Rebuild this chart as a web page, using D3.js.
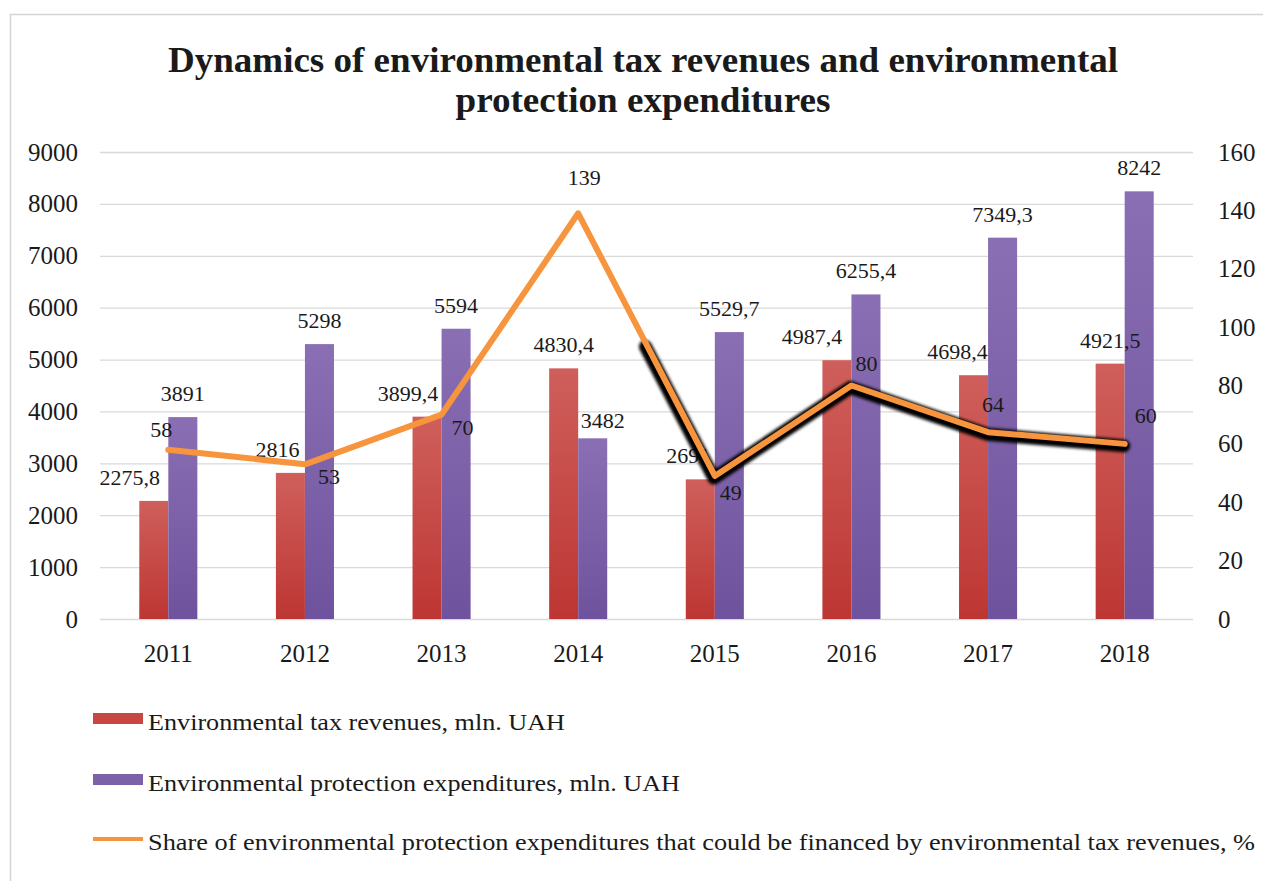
<!DOCTYPE html>
<html>
<head>
<meta charset="utf-8">
<script src="https://cdn.jsdelivr.net/npm/d3@7"></script>
<style>
  html, body { margin: 0; padding: 0; background: #fff; }
  svg { display: block; }
  text { font-family: "Liberation Serif", "Times New Roman", serif; fill: #1a1a1a; }
</style>
</head>
<body>
<svg id="chart" width="1263" height="881"></svg>
<script>
// Years and series
const years = ["2011", "2012", "2013", "2014", "2015", "2016", "2017", "2018"];
const taxRevenues = [2275.8, 2816, 3899.4, 4830.4, 2691, 4987.4, 4698.4, 4921.5];
const protectionExpenditures = [3891, 5298, 5594, 3482, 5529.7, 6255.4, 7349.3, 8242];
const financedShare = [58, 53, 70, 139, 49, 80, 64, 60];

// Series names for the legend
const seriesNames = [
  "Environmental tax revenues, mln. UAH",
  "Environmental protection expenditures, mln. UAH",
  "Share of environmental protection expenditures that could be financed by environmental tax revenues, %"
];
const titleLines = [
  "Dynamics of environmental tax revenues and environmental",
  "protection expenditures"
];

// Label nudges (pixels) so labels don't sit on top of each other
const revLabelDx = [-24, -13, -19, 0, -12, -25, -16, 0];
const expLabelDx = [0, 0, 0, 10, 0, 0, 0, 0];
const shareLabelDx = [-7, 24, 21, 6, 16, 15, 5, 21];
const shareLabelDy = [-13, 20, 20, -28, 24, -15, -20, -21];

const fmt = v => String(v).replace(".", ",");

const svg = d3.select("#chart");
const defs = svg.append("defs");

// Bar gradients
const gRed = defs.append("linearGradient").attr("id", "gradRed")
  .attr("x1", 0).attr("y1", 0).attr("x2", 0).attr("y2", 1);
gRed.append("stop").attr("offset", "0%").attr("stop-color", "#cf5f5b");
gRed.append("stop").attr("offset", "100%").attr("stop-color", "#bd3633");
const gPur = defs.append("linearGradient").attr("id", "gradPurple")
  .attr("x1", 0).attr("y1", 0).attr("x2", 0).attr("y2", 1);
gPur.append("stop").attr("offset", "0%").attr("stop-color", "#8b6fb4");
gPur.append("stop").attr("offset", "100%").attr("stop-color", "#6e529d");

const shadowBlur = defs.append("filter").attr("id", "shadowBlur")
  .attr("x", "-10%").attr("y", "-10%").attr("width", "120%").attr("height", "120%");
shadowBlur.append("feGaussianBlur").attr("stdDeviation", 1.6);

// Outer frame
svg.append("rect").attr("x", 10.5).attr("y", 14.5).attr("width", 1300).attr("height", 950)
  .attr("fill", "none").attr("stroke", "#d4d4d4").attr("stroke-width", 1.5);

// Title
const title = svg.append("g");
title.append("text").attr("x", 643).attr("y", 72).attr("text-anchor", "middle")
  .attr("font-size", 35).attr("font-weight", "bold")
  .attr("textLength", 950).attr("lengthAdjust", "spacingAndGlyphs")
  .text(titleLines[0]);
title.append("text").attr("x", 643).attr("y", 112).attr("text-anchor", "middle")
  .attr("font-size", 35).attr("font-weight", "bold")
  .attr("textLength", 375).attr("lengthAdjust", "spacingAndGlyphs")
  .text(titleLines[1]);

// Plot area
const plot = { left: 100, right: 1193, top: 152, bottom: 619 };

const x0 = d3.scaleBand().domain(years)
  .range([plot.left, plot.right]).paddingInner(0.575).paddingOuter(0.2875);
const x1 = d3.scaleBand().domain(["rev", "exp"]).range([0, x0.bandwidth()]);
const yL = d3.scaleLinear().domain([0, 9000]).range([plot.bottom, plot.top]);
const yR = d3.scaleLinear().domain([0, 160]).range([plot.bottom, plot.top]);
const cx = y => x0(y) + x0.bandwidth() / 2;

// Gridlines
svg.append("g").selectAll("line").data(yL.ticks(9)).join("line")
  .attr("x1", plot.left).attr("x2", plot.right)
  .attr("y1", d => yL(d) + 0.5).attr("y2", d => yL(d) + 0.5)
  .attr("stroke", "#d9d9d9").attr("stroke-width", 1.3);

// Left axis
const axL = svg.append("g").attr("transform", `translate(${plot.left - 22},0)`)
  .call(d3.axisLeft(yL).ticks(9).tickSize(0).tickPadding(0).tickFormat(d3.format("d")));
axL.select(".domain").remove();
axL.selectAll("text").attr("font-size", 25).attr("font-family", "Liberation Serif").attr("fill", "#222");

// Right axis
const axR = svg.append("g").attr("transform", `translate(${plot.right + 25},0)`)
  .call(d3.axisRight(yR).ticks(8).tickSize(0).tickPadding(0).tickFormat(d3.format("d")));
axR.select(".domain").remove();
axR.selectAll("text").attr("font-size", 25).attr("font-family", "Liberation Serif").attr("fill", "#222");

// Bottom axis
const axB = svg.append("g").attr("transform", `translate(0,${plot.bottom + 19})`)
  .call(d3.axisBottom(x0).tickSize(0).tickPadding(0));
axB.select(".domain").remove();
axB.selectAll("text").attr("font-size", 25).attr("font-family", "Liberation Serif")
  .attr("fill", "#222").attr("dy", "0.95em");

// Bars
const barGroups = svg.append("g").selectAll("g").data(years).join("g")
  .attr("transform", d => `translate(${x0(d)},0)`);
barGroups.append("rect")
  .attr("x", x1("rev")).attr("width", x1.bandwidth())
  .attr("y", (d, i) => yL(taxRevenues[i]))
  .attr("height", (d, i) => yL(0) - yL(taxRevenues[i]))
  .attr("fill", "url(#gradRed)");
barGroups.append("rect")
  .attr("x", x1("exp")).attr("width", x1.bandwidth())
  .attr("y", (d, i) => yL(protectionExpenditures[i]))
  .attr("height", (d, i) => yL(0) - yL(protectionExpenditures[i]))
  .attr("fill", "url(#gradPurple)");

// Bar labels
const labels = svg.append("g").attr("font-size", 22).attr("text-anchor", "middle");
labels.selectAll("text.rev").data(years).join("text").attr("class", "rev")
  .attr("x", (d, i) => x0(d) + x1("rev") + x1.bandwidth() / 2 + revLabelDx[i])
  .attr("y", (d, i) => yL(taxRevenues[i]) - 16)
  .text((d, i) => fmt(taxRevenues[i]));
labels.selectAll("text.exp").data(years).join("text").attr("class", "exp")
  .attr("x", (d, i) => x0(d) + x1("exp") + x1.bandwidth() / 2 + expLabelDx[i])
  .attr("y", (d, i) => yL(protectionExpenditures[i]) - (i === 3 ? 10 : 16))
  .text((d, i) => fmt(protectionExpenditures[i]));

// Share line
const line = d3.line().x(d => d[0]).y(d => d[1]);
const sharePts = years.map((y, i) => [cx(y), yR(financedShare[i])]);

// Dark shadow beneath the later part of the line (from midway 2014–2015)
const midPt = [(cx(years[3]) + cx(years[4])) / 2, yR((financedShare[3] + financedShare[4]) / 2)];
const shadowPts = [midPt].concat(sharePts.slice(4));
svg.append("path").datum(shadowPts)
  .attr("d", line).attr("fill", "none")
  .attr("stroke", "#000").attr("stroke-width", 13)
  .attr("stroke-linejoin", "round").attr("stroke-linecap", "round")
  .attr("transform", "translate(-1,2)")
  .attr("filter", "url(#shadowBlur)");

svg.append("path").datum(sharePts)
  .attr("d", line).attr("fill", "none")
  .attr("stroke", "#f7953f").attr("stroke-width", 6)
  .attr("stroke-linejoin", "round").attr("stroke-linecap", "round");

// Share labels
labels.selectAll("text.share").data(years).join("text").attr("class", "share")
  .attr("x", (d, i) => cx(d) + shareLabelDx[i])
  .attr("y", (d, i) => yR(financedShare[i]) + shareLabelDy[i])
  .text((d, i) => financedShare[i]);

// Legend
const legend = svg.append("g").attr("font-size", 23);
const legendRows = [
  { y: 719, kind: "bar", fill: "url(#gradRed)", len: 417 },
  { y: 780, kind: "bar", fill: "url(#gradPurple)", len: 532 },
  { y: 839, kind: "line", fill: "#f7953f", len: 1107 }
];
legendRows.forEach((r, i) => {
  if (r.kind === "bar") {
    legend.append("rect").attr("x", 93).attr("y", r.y - 6).attr("width", 50).attr("height", 11)
      .attr("fill", i === 0 ? "#c84743" : "#7c60a8");
  } else {
    legend.append("line").attr("x1", 93).attr("x2", 143).attr("y1", r.y).attr("y2", r.y)
      .attr("stroke", r.fill).attr("stroke-width", 4);
  }
  legend.append("text").attr("x", 148).attr("y", r.y + 11)
    .attr("textLength", r.len).attr("lengthAdjust", "spacingAndGlyphs")
    .text(seriesNames[i]);
});
</script>
</body>
</html>
